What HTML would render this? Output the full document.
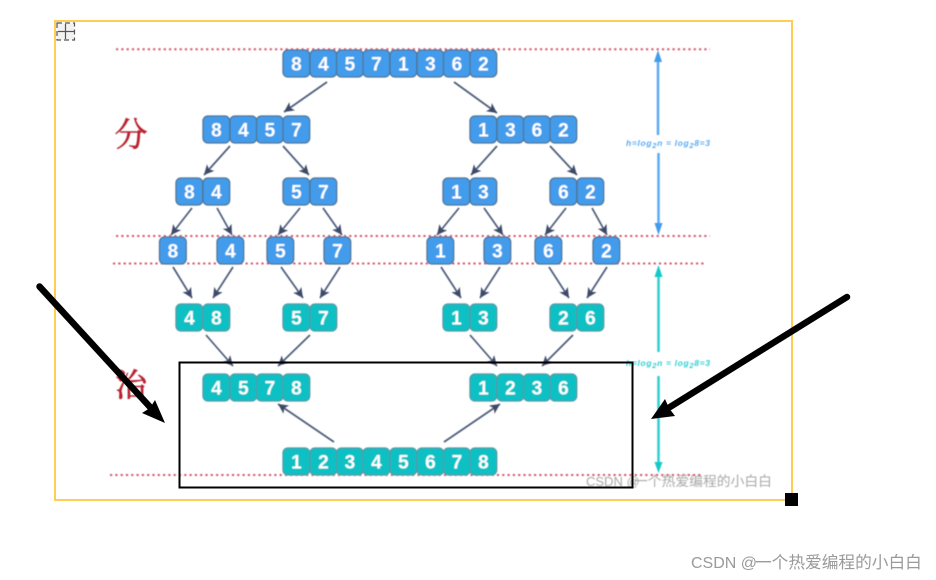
<!DOCTYPE html>
<html><head><meta charset="utf-8"><style>
html,body{margin:0;padding:0;background:#fff;width:936px;height:580px;overflow:hidden}
svg{display:block}
.n{font:bold 19px "Liberation Sans",sans-serif;fill:#fff;text-anchor:middle}
.a line{stroke:#4a5a78;stroke-width:1.7}
.d{stroke:#d4566c;stroke-width:2;stroke-dasharray:2.2 3.1}
.b rect{fill:#439ceb;stroke:#4f7596;stroke-width:1.3}
.t rect{fill:#0cc0c4;stroke:#4b9ba5;stroke-width:1.3}
.l{font-family:"Liberation Sans",sans-serif;font-size:8.5px;font-weight:700;font-style:italic}
.l tspan{font-size:7.5px}
</style></head><body>
<svg width="936" height="580" viewBox="0 0 936 580" xmlns="http://www.w3.org/2000/svg">
<defs>
<marker id="m" markerUnits="userSpaceOnUse" markerWidth="12" markerHeight="12" refX="10" refY="5" orient="auto"><path d="M0 0L10 5L0 10L2.500 5Z" fill="#3d4a68"/></marker>
<filter id="f" filterUnits="userSpaceOnUse" x="0" y="0" width="936" height="580"><feGaussianBlur stdDeviation="0.4"/></filter>
</defs>
<g filter="url(#f)">
<line class="d" x1="116" y1="49.300" x2="710" y2="49.300"/>
<line class="d" x1="116" y1="236" x2="710" y2="236"/>
<line class="d" x1="113" y1="263.500" x2="706" y2="263.500"/>
<line class="d" x1="110" y1="475" x2="703" y2="475"/>

<g class="a">
<line x1="327" y1="82" x2="284" y2="112" marker-end="url(#m)"/><line x1="454" y1="82" x2="497" y2="113" marker-end="url(#m)"/>
<line x1="230" y1="146" x2="204" y2="175" marker-end="url(#m)"/><line x1="283" y1="146" x2="309" y2="175" marker-end="url(#m)"/>
<line x1="497" y1="146" x2="471" y2="175" marker-end="url(#m)"/><line x1="550" y1="146" x2="577" y2="175" marker-end="url(#m)"/>
<line x1="192" y1="208" x2="171" y2="235" marker-end="url(#m)"/><line x1="217" y1="208" x2="232" y2="235" marker-end="url(#m)"/>
<line x1="300" y1="208" x2="278" y2="235" marker-end="url(#m)"/><line x1="323" y1="208" x2="342" y2="235" marker-end="url(#m)"/>
<line x1="459" y1="208" x2="437" y2="235" marker-end="url(#m)"/><line x1="484" y1="208" x2="503" y2="235" marker-end="url(#m)"/>
<line x1="566" y1="208" x2="545" y2="235" marker-end="url(#m)"/><line x1="592" y1="208" x2="607" y2="235" marker-end="url(#m)"/>
<line x1="173" y1="267" x2="192" y2="298" marker-end="url(#m)"/><line x1="233" y1="267" x2="213" y2="298" marker-end="url(#m)"/>
<line x1="281" y1="267" x2="303" y2="298" marker-end="url(#m)"/><line x1="340" y1="267" x2="320" y2="298" marker-end="url(#m)"/>
<line x1="441" y1="267" x2="461" y2="298" marker-end="url(#m)"/><line x1="500" y1="267" x2="480" y2="298" marker-end="url(#m)"/>
<line x1="549" y1="267" x2="569" y2="298" marker-end="url(#m)"/><line x1="607" y1="267" x2="587" y2="298" marker-end="url(#m)"/>
<line x1="206" y1="335" x2="233" y2="366" marker-end="url(#m)"/><line x1="310" y1="335" x2="278" y2="366" marker-end="url(#m)"/>
<line x1="470" y1="335" x2="497" y2="366" marker-end="url(#m)"/><line x1="573" y1="335" x2="542" y2="366" marker-end="url(#m)"/>
<line x1="334" y1="442" x2="278" y2="404" marker-end="url(#m)"/><line x1="444" y1="442" x2="500" y2="404" marker-end="url(#m)"/>
</g>

<g class="b">
<rect x="283" y="50" width="26.7" height="27" rx="5"/><rect x="310" y="50" width="26.7" height="27" rx="5"/><rect x="336.500" y="50" width="26.7" height="27" rx="5"/><rect x="363" y="50" width="26.7" height="27" rx="5"/><rect x="390" y="50" width="26.7" height="27" rx="5"/><rect x="417" y="50" width="26.7" height="27" rx="5"/><rect x="443.500" y="50" width="26.7" height="27" rx="5"/><rect x="470" y="50" width="26.7" height="27" rx="5"/>
<rect x="203" y="116" width="26.7" height="27" rx="5"/><rect x="230" y="116" width="26.7" height="27" rx="5"/><rect x="256.500" y="116" width="26.7" height="27" rx="5"/><rect x="283" y="116" width="26.7" height="27" rx="5"/>
<rect x="470" y="116" width="26.7" height="27" rx="5"/><rect x="497" y="116" width="26.7" height="27" rx="5"/><rect x="523.500" y="116" width="26.7" height="27" rx="5"/><rect x="550" y="116" width="26.7" height="27" rx="5"/>
<rect x="176" y="178" width="26.7" height="27" rx="5"/><rect x="203" y="178" width="26.7" height="27" rx="5"/><rect x="283" y="178" width="26.7" height="27" rx="5"/><rect x="310" y="178" width="26.7" height="27" rx="5"/>
<rect x="443" y="178" width="26.7" height="27" rx="5"/><rect x="470" y="178" width="26.7" height="27" rx="5"/><rect x="550" y="178" width="26.7" height="27" rx="5"/><rect x="577" y="178" width="26.7" height="27" rx="5"/>
<rect x="159.500" y="237" width="26.7" height="27" rx="5"/><rect x="217" y="237" width="26.7" height="27" rx="5"/><rect x="267" y="237" width="26.7" height="27" rx="5"/><rect x="324" y="237" width="26.7" height="27" rx="5"/>
<rect x="427" y="237" width="26.7" height="27" rx="5"/><rect x="484" y="237" width="26.7" height="27" rx="5"/><rect x="535" y="237" width="26.7" height="27" rx="5"/><rect x="593" y="237" width="26.7" height="27" rx="5"/>
</g>
<g class="t">
<rect x="176" y="304" width="26.7" height="27" rx="5"/><rect x="203" y="304" width="26.7" height="27" rx="5"/><rect x="283" y="304" width="26.7" height="27" rx="5"/><rect x="310" y="304" width="26.7" height="27" rx="5"/>
<rect x="443" y="304" width="26.7" height="27" rx="5"/><rect x="470" y="304" width="26.7" height="27" rx="5"/><rect x="550" y="304" width="26.7" height="27" rx="5"/><rect x="577" y="304" width="26.7" height="27" rx="5"/>
<rect x="203" y="374" width="26.7" height="27" rx="5"/><rect x="230" y="374" width="26.7" height="27" rx="5"/><rect x="256.500" y="374" width="26.7" height="27" rx="5"/><rect x="283" y="374" width="26.7" height="27" rx="5"/>
<rect x="470" y="374" width="26.7" height="27" rx="5"/><rect x="497" y="374" width="26.7" height="27" rx="5"/><rect x="523.500" y="374" width="26.7" height="27" rx="5"/><rect x="550" y="374" width="26.7" height="27" rx="5"/>
<rect x="283" y="448" width="26.7" height="27" rx="5"/><rect x="310" y="448" width="26.7" height="27" rx="5"/><rect x="336.500" y="448" width="26.7" height="27" rx="5"/><rect x="363" y="448" width="26.7" height="27" rx="5"/><rect x="390" y="448" width="26.7" height="27" rx="5"/><rect x="417" y="448" width="26.7" height="27" rx="5"/><rect x="443.500" y="448" width="26.7" height="27" rx="5"/><rect x="470" y="448" width="26.7" height="27" rx="5"/>
</g>

<g class="n">
<text x="296.400" y="70.500">8</text><text x="323.400" y="70.500">4</text><text x="349.900" y="70.500">5</text><text x="376.400" y="70.500">7</text><text x="403.400" y="70.500">1</text><text x="430.400" y="70.500">3</text><text x="456.900" y="70.500">6</text><text x="483.400" y="70.500">2</text>
<text x="216.400" y="136.500">8</text><text x="243.400" y="136.500">4</text><text x="269.900" y="136.500">5</text><text x="296.400" y="136.500">7</text>
<text x="483.400" y="136.500">1</text><text x="510.400" y="136.500">3</text><text x="536.900" y="136.500">6</text><text x="563.400" y="136.500">2</text>
<text x="189.400" y="198.500">8</text><text x="216.400" y="198.500">4</text><text x="296.400" y="198.500">5</text><text x="323.400" y="198.500">7</text>
<text x="456.400" y="198.500">1</text><text x="483.400" y="198.500">3</text><text x="563.400" y="198.500">6</text><text x="590.400" y="198.500">2</text>
<text x="172.900" y="257.500">8</text><text x="230.400" y="257.500">4</text><text x="280.400" y="257.500">5</text><text x="337.400" y="257.500">7</text>
<text x="440.400" y="257.500">1</text><text x="497.400" y="257.500">3</text><text x="548.400" y="257.500">6</text><text x="606.400" y="257.500">2</text>
<text x="189.400" y="324.500">4</text><text x="216.400" y="324.500">8</text><text x="296.400" y="324.500">5</text><text x="323.400" y="324.500">7</text>
<text x="456.400" y="324.500">1</text><text x="483.400" y="324.500">3</text><text x="563.400" y="324.500">2</text><text x="590.400" y="324.500">6</text>
<text x="216.400" y="394.500">4</text><text x="243.400" y="394.500">5</text><text x="269.900" y="394.500">7</text><text x="296.400" y="394.500">8</text>
<text x="483.400" y="394.500">1</text><text x="510.400" y="394.500">2</text><text x="536.900" y="394.500">3</text><text x="563.400" y="394.500">6</text>
<text x="296.400" y="468.500">1</text><text x="323.400" y="468.500">2</text><text x="349.900" y="468.500">3</text><text x="376.400" y="468.500">4</text><text x="403.400" y="468.500">5</text><text x="430.400" y="468.500">6</text><text x="456.900" y="468.500">7</text><text x="483.400" y="468.500">8</text>
</g>

<text x="131" y="146" font-family="'Noto Serif CJK SC',serif" font-size="33" font-weight="400" fill="#b8232f" stroke="#b8232f" stroke-width="0.6" text-anchor="middle">分</text>
<text x="131" y="396" font-family="'Noto Serif CJK SC',serif" font-size="32" font-weight="400" fill="#b8232f" stroke="#b8232f" stroke-width="0.6" text-anchor="middle">治</text>

<g stroke="#5aaaf2" stroke-width="2.500">
<line x1="658" y1="60" x2="658" y2="135"/><line x1="658.500" y1="153" x2="658.500" y2="226"/>
</g>
<polygon points="658,50 654,62 662,62" fill="#439ceb"/><polygon points="658.500,235 654.500,223 662.500,223" fill="#439ceb"/>
<g stroke="#2dcfd0" stroke-width="2.500">
<line x1="658.500" y1="275" x2="658.500" y2="352"/><line x1="658.500" y1="376" x2="658.500" y2="464"/>
</g>
<polygon points="658.500,265 654.500,277 662.500,277" fill="#19c9c9"/><polygon points="658.500,473 654.500,462 662.500,462" fill="#19c9c9"/>
<text class="l" x="626" y="146" fill="#5aaaf2" textLength="84">h=log<tspan dy="2">2</tspan><tspan dy="-2" style="font-size:8.500px">n = log</tspan><tspan dy="2">2</tspan><tspan dy="-2" style="font-size:8.500px">8=3</tspan></text>
<text class="l" x="626" y="366" fill="#2dcfd0" textLength="84">h=log<tspan dy="2">2</tspan><tspan dy="-2" style="font-size:8.500px">n = log</tspan><tspan dy="2">2</tspan><tspan dy="-2" style="font-size:8.500px">8=3</tspan></text>
<text y="486" font-family="'Liberation Sans','Noto Sans CJK SC',sans-serif" font-size="13" fill="#a8a8a8"><tspan x="586">CSDN @</tspan><tspan x="634" font-size="13.800">一个热爱编程的小白白</tspan></text>
</g>

<rect x="55" y="21" width="737" height="479" fill="none" stroke="#fdcd55" stroke-width="2"/>
<rect x="785" y="493" width="13" height="13" fill="#000"/>
<g fill="none" stroke="#555" stroke-width="1.200">
<rect x="57" y="23" width="17.500" height="17" fill="#f2f2f2" stroke-dasharray="5 3"/>
<line x1="58" y1="31.500" x2="74" y2="31.500"/><line x1="65.500" y1="24" x2="65.500" y2="39"/>
</g>
<rect x="179.500" y="362.500" width="453" height="125" fill="none" stroke="#000" stroke-width="2"/>

<line x1="39.500" y1="286.500" x2="150" y2="407" stroke="#000" stroke-width="6.500" stroke-linecap="round"/>
<polygon points="165,423 155,400 150,408 142,413" fill="#000"/>
<line x1="847" y1="297" x2="670" y2="407" stroke="#000" stroke-width="6.500" stroke-linecap="round"/>
<polygon points="651,419 665,399 669,408 675,416" fill="#000"/>

<text y="568" font-family="'Liberation Sans','Noto Sans CJK SC',sans-serif" font-size="16" fill="#9a9a9a"><tspan x="691">CSDN @</tspan><tspan x="755" font-size="16.700">一个热爱编程的小白白</tspan></text>
</svg>
</body></html>
